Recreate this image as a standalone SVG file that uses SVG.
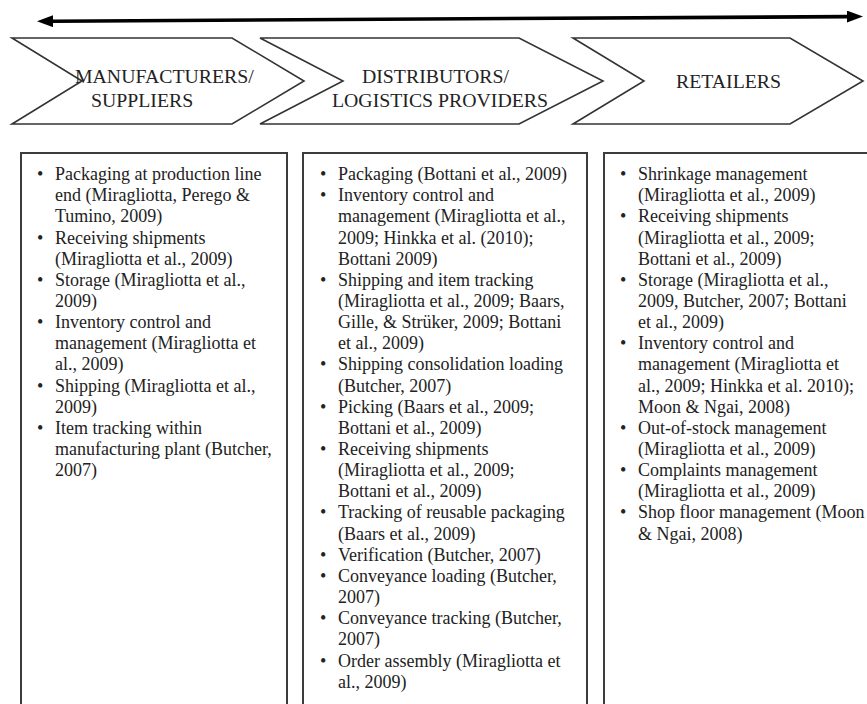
<svg xmlns="http://www.w3.org/2000/svg" width="867" height="704" viewBox="0 0 867 704">
  <style>
    .chev { fill: #ffffff; stroke: #333333; stroke-width: 1.6; stroke-linejoin: miter; }
    .head { font-family: "Liberation Serif", "Times New Roman", serif; font-size: 19.8px; fill: #222222; }
    .box { fill: #ffffff; stroke: #3c3c3c; stroke-width: 2; }
    .item { font-family: "Liberation Serif", "Times New Roman", serif; font-size: 18px; fill: #222222; }
    .flow { stroke: #000000; stroke-width: 3.6; fill: none; }
  </style>
  <defs>
    <marker id="tip" viewBox="0 0 16 12" refX="0" refY="6" markerWidth="16" markerHeight="12" markerUnits="userSpaceOnUse" orient="auto-start-reverse">
      <path d="M0,0 L16,6 L0,12 Z" fill="#000000"/>
    </marker>
  </defs>
  <rect width="867" height="704" fill="#ffffff"/>

  <!-- two-way flow along the supply chain -->
  <g id="connectors">
    <line class="flow" x1="53" y1="21.2" x2="847" y2="16.6" marker-start="url(#tip)" marker-end="url(#tip)"/>
  </g>

  <!-- stage chevrons -->
  <g id="stage-manufacturers">
    <polygon class="chev" points="12,38 232,38 304,81 232,124 12,124 82,81"/>
    <text class="head"><tspan x="75" y="83">MANUFACTURERS/</tspan><tspan x="91" y="107">SUPPLIERS</tspan></text>
  </g>
  <g id="stage-distributors">
    <polygon class="chev" points="260,38 519,38 603,81 519,124 260,124 343,81"/>
    <text class="head"><tspan x="362" y="83">DISTRIBUTORS/</tspan><tspan x="332" y="107">LOGISTICS PROVIDERS</tspan></text>
  </g>
  <g id="stage-retailers">
    <polygon class="chev" points="573,38 790,38 863,81 790,124 573,124 644,81"/>
    <text class="head" x="676" y="88">RETAILERS</text>
  </g>

  <!-- activity lists -->
  <g id="list-manufacturers">
    <rect class="box" x="21" y="153" width="266" height="600"/>
    <text class="item">
      <tspan x="37" y="180">•</tspan><tspan x="55" y="180">Packaging at production line</tspan>
      <tspan x="55" y="201.2">end (Miragliotta, Perego &amp;</tspan>
      <tspan x="55" y="222.3">Tumino, 2009)</tspan>
      <tspan x="37" y="243.5">•</tspan><tspan x="55" y="243.5">Receiving shipments</tspan>
      <tspan x="55" y="264.6">(Miragliotta et al., 2009)</tspan>
      <tspan x="37" y="285.8">•</tspan><tspan x="55" y="285.8">Storage (Miragliotta et al.,</tspan>
      <tspan x="55" y="306.9">2009)</tspan>
      <tspan x="37" y="328.1">•</tspan><tspan x="55" y="328.1">Inventory control and</tspan>
      <tspan x="55" y="349.2">management (Miragliotta et</tspan>
      <tspan x="55" y="370.4">al., 2009)</tspan>
      <tspan x="37" y="391.5">•</tspan><tspan x="55" y="391.5">Shipping (Miragliotta et al.,</tspan>
      <tspan x="55" y="412.7">2009)</tspan>
      <tspan x="37" y="433.8">•</tspan><tspan x="55" y="433.8">Item tracking within</tspan>
      <tspan x="55" y="455">manufacturing plant (Butcher,</tspan>
      <tspan x="55" y="476.1">2007)</tspan>
    </text>
  </g>

  <g id="list-distributors">
    <rect class="box" x="303" y="153" width="284" height="600"/>
    <text class="item">
      <tspan x="320" y="180">•</tspan><tspan x="338" y="180">Packaging (Bottani et al., 2009)</tspan>
      <tspan x="320" y="201.2">•</tspan><tspan x="338" y="201.2">Inventory control and</tspan>
      <tspan x="338" y="222.3">management (Miragliotta et al.,</tspan>
      <tspan x="338" y="243.5">2009; Hinkka et al. (2010);</tspan>
      <tspan x="338" y="264.6">Bottani 2009)</tspan>
      <tspan x="320" y="285.8">•</tspan><tspan x="338" y="285.8">Shipping and item tracking</tspan>
      <tspan x="338" y="306.9">(Miragliotta et al., 2009; Baars,</tspan>
      <tspan x="338" y="328.1">Gille, &amp; Strüker, 2009; Bottani</tspan>
      <tspan x="338" y="349.2">et al., 2009)</tspan>
      <tspan x="320" y="370.4">•</tspan><tspan x="338" y="370.4">Shipping consolidation loading</tspan>
      <tspan x="338" y="391.5">(Butcher, 2007)</tspan>
      <tspan x="320" y="412.7">•</tspan><tspan x="338" y="412.7">Picking (Baars et al., 2009;</tspan>
      <tspan x="338" y="433.8">Bottani et al., 2009)</tspan>
      <tspan x="320" y="455">•</tspan><tspan x="338" y="455">Receiving shipments</tspan>
      <tspan x="338" y="476.1">(Miragliotta et al., 2009;</tspan>
      <tspan x="338" y="497.3">Bottani et al., 2009)</tspan>
      <tspan x="320" y="518.4">•</tspan><tspan x="338" y="518.4">Tracking of reusable packaging</tspan>
      <tspan x="338" y="539.6">(Baars et al., 2009)</tspan>
      <tspan x="320" y="560.7">•</tspan><tspan x="338" y="560.7">Verification (Butcher, 2007)</tspan>
      <tspan x="320" y="581.9">•</tspan><tspan x="338" y="581.9">Conveyance loading (Butcher,</tspan>
      <tspan x="338" y="603">2007)</tspan>
      <tspan x="320" y="624.2">•</tspan><tspan x="338" y="624.2">Conveyance tracking (Butcher,</tspan>
      <tspan x="338" y="645.3">2007)</tspan>
      <tspan x="320" y="666.5">•</tspan><tspan x="338" y="666.5">Order assembly (Miragliotta et</tspan>
      <tspan x="338" y="687.6">al., 2009)</tspan>
    </text>
  </g>

  <g id="list-retailers">
    <rect class="box" x="604" y="153" width="300" height="600"/>
    <text class="item">
      <tspan x="620" y="180">•</tspan><tspan x="638" y="180">Shrinkage management</tspan>
      <tspan x="638" y="201.2">(Miragliotta et al., 2009)</tspan>
      <tspan x="620" y="222.3">•</tspan><tspan x="638" y="222.3">Receiving shipments</tspan>
      <tspan x="638" y="243.5">(Miragliotta et al., 2009;</tspan>
      <tspan x="638" y="264.6">Bottani et al., 2009)</tspan>
      <tspan x="620" y="285.8">•</tspan><tspan x="638" y="285.8">Storage (Miragliotta et al.,</tspan>
      <tspan x="638" y="306.9">2009, Butcher, 2007; Bottani</tspan>
      <tspan x="638" y="328.1">et al., 2009)</tspan>
      <tspan x="620" y="349.2">•</tspan><tspan x="638" y="349.2">Inventory control and</tspan>
      <tspan x="638" y="370.4">management (Miragliotta et</tspan>
      <tspan x="638" y="391.5">al., 2009; Hinkka et al. 2010);</tspan>
      <tspan x="638" y="412.7">Moon &amp; Ngai, 2008)</tspan>
      <tspan x="620" y="433.8">•</tspan><tspan x="638" y="433.8">Out-of-stock management</tspan>
      <tspan x="638" y="455">(Miragliotta et al., 2009)</tspan>
      <tspan x="620" y="476.1">•</tspan><tspan x="638" y="476.1">Complaints management</tspan>
      <tspan x="638" y="497.3">(Miragliotta et al., 2009)</tspan>
      <tspan x="620" y="518.4">•</tspan><tspan x="638" y="518.4">Shop floor management (Moon</tspan>
      <tspan x="638" y="539.6">&amp; Ngai, 2008)</tspan>
    </text>
  </g>
</svg>
